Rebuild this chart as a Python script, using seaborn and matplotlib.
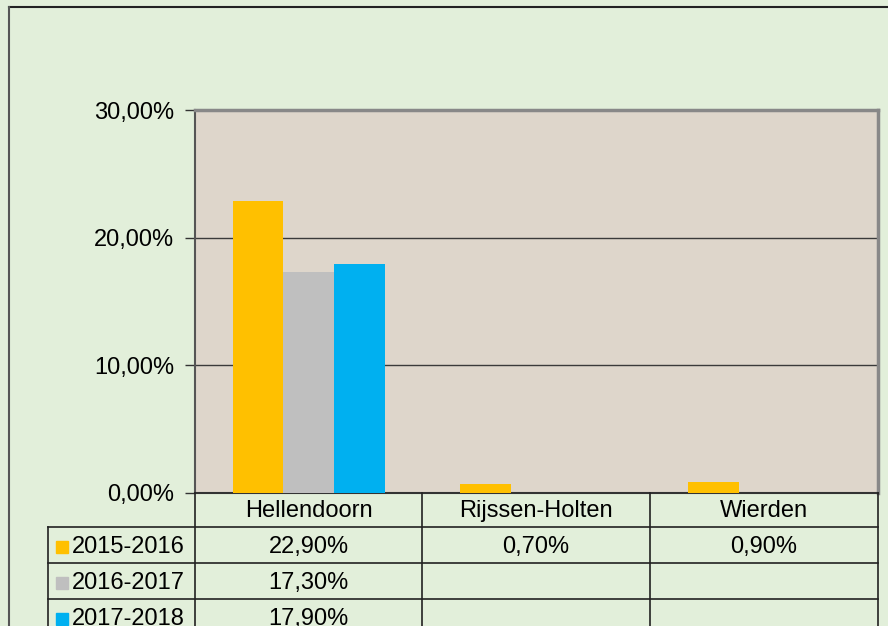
#!/usr/bin/env python3
"""Grouped bar chart with an Excel-style data table underneath."""

import numpy as np
import pandas as pd
import seaborn as sns
import matplotlib.pyplot as plt
from matplotlib.lines import Line2D
from matplotlib.patches import Rectangle

# DATA
gemeenten = ["Hellendoorn", "Rijssen-Holten", "Wierden"]
seizoenen = ["2015-2016", "2016-2017", "2017-2018"]
pct_2015_2016 = [22.9, 0.7, 0.9]
pct_2016_2017 = [17.3, np.nan, np.nan]
pct_2017_2018 = [17.9, np.nan, np.nan]
yticks = [0, 10, 20, 30]

kleuren = ["#FFC000", "#BFBFBF", "#00B0F0"]
fig_bg = "#E2EFDA"
plot_bg = "#DED6CB"

rows = []
for seizoen, waarden in zip(seizoenen, [pct_2015_2016, pct_2016_2017, pct_2017_2018]):
    for g, w in zip(gemeenten, waarden):
        rows.append({"Gemeente": g, "Seizoen": seizoen, "Pct": w})
df = pd.DataFrame(rows).dropna()

def fmt(v):
    return ("%.2f%%" % v).replace(".", ",")

# FIGURE
W, H = 888, 626
FS = 17
plt.rcParams["font.family"] = ["Liberation Sans", "DejaVu Sans"]
fig = plt.figure(figsize=(W / 100, H / 100), dpi=100, facecolor=fig_bg)

x0, x1, ytop, ybot = 195, 878, 110, 493
ax = fig.add_axes([x0 / W, 1 - ybot / H, (x1 - x0) / W, (ybot - ytop) / H])
ax.set_facecolor(plot_bg)

sns.barplot(data=df, x="Gemeente", y="Pct", hue="Seizoen",
            order=gemeenten, hue_order=seizoenen,
            palette=kleuren, saturation=1, width=0.67,
            linewidth=0, legend=False, ax=ax, zorder=3)

ax.set_xlim(-0.5, len(gemeenten) - 0.5)
ax.set_ylim(0, 30)
ax.set_yticks(yticks)
ax.set_yticklabels([fmt(t) for t in yticks], fontsize=FS)
ax.set_xticks([])
ax.set_xlabel("")
ax.set_ylabel("")
ax.tick_params(axis="y", length=7, width=1, color="#333333", pad=8)
for t in yticks[1:-1]:
    ax.axhline(t, color="#3a3a3a", linewidth=1, zorder=2)
ax.spines["left"].set_color("#555555")
ax.spines["left"].set_linewidth(1.5)
ax.spines["bottom"].set_color("#333333")
ax.spines["bottom"].set_linewidth(1.5)
ax.spines["top"].set_color("#888888")
ax.spines["top"].set_linewidth(2.5)
ax.spines["right"].set_color("#888888")
ax.spines["right"].set_linewidth(2.5)

# DATA TABLE (pixel coordinates converted to figure fraction)
def fx(px):
    return px / W

def fy(py):
    return 1 - py / H

line_kw = dict(color="#222222", linewidth=1.2)
col_edges = [195, 422, 650, 878]
row_edges = [527, 563, 599, 635]
leg_left = 48

# vertical lines
for cx in col_edges:
    fig.add_artist(Line2D([fx(cx), fx(cx)], [fy(ybot), fy(H + 5)], **line_kw))
fig.add_artist(Line2D([fx(leg_left), fx(leg_left)], [fy(row_edges[0]), fy(H + 5)], **line_kw))
# horizontal lines
for ry in row_edges:
    fig.add_artist(Line2D([fx(leg_left), fx(x1)], [fy(ry), fy(ry)], **line_kw))

# header texts
for i, g in enumerate(gemeenten):
    cx = (col_edges[i] + col_edges[i + 1]) / 2
    fig.text(fx(cx), fy((ybot + row_edges[0]) / 2 + 1), g, ha="center", va="center", fontsize=FS)

# rows
for r, (seizoen, waarden) in enumerate(zip(seizoenen, [pct_2015_2016, pct_2016_2017, pct_2017_2018])):
    cy = (row_edges[r] + row_edges[r + 1]) / 2 + 2
    fig.add_artist(Rectangle((fx(56), fy(cy + 6)), 12 / W, 12 / H, color=kleuren[r],
                             transform=fig.transFigure))
    fig.text(fx(72), fy(cy), seizoen, ha="left", va="center", fontsize=FS)
    for i, w in enumerate(waarden):
        if not np.isnan(w):
            cx = (col_edges[i] + col_edges[i + 1]) / 2
            fig.text(fx(cx), fy(cy), fmt(w), ha="center", va="center", fontsize=FS)

# outer chart border
fig.add_artist(Line2D([fx(9), fx(W + 5)], [fy(7), fy(7)], color="#222222", linewidth=1.5))
fig.add_artist(Line2D([fx(9), fx(9)], [fy(7), fy(H + 5)], color="#555555", linewidth=1.5))

fig.savefig("out.png", dpi=100, facecolor=fig_bg)
